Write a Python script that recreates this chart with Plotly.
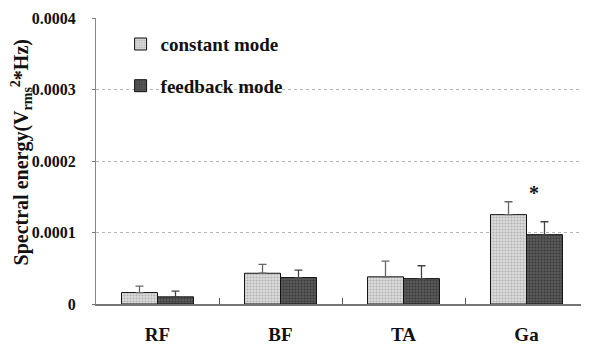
import plotly.graph_objects as go

categories = ["RF", "BF", "TA", "Ga"]
constant_vals = [1.6e-5, 4.3e-5, 3.8e-5, 12.5e-5]
constant_err = [0.9e-5, 1.25e-5, 2.2e-5, 1.8e-5]
feedback_vals = [1.0e-5, 3.7e-5, 3.55e-5, 9.7e-5]
feedback_err = [0.8e-5, 1.05e-5, 1.8e-5, 1.8e-5]
y_ticks = [0, 0.0001, 0.0002, 0.0003, 0.0004]
y_tick_labels = ["0", "0.0001", "0.0002", "0.0003", "0.0004"]
y_title = "<b>Spectral energy(V<sub>rms</sub><sup>2</sup>*Hz)</b>"

FONT = "Liberation Serif, Times New Roman, Times, serif"

fig = go.Figure()
fig.add_trace(go.Bar(
    name="<b>constant mode</b>", x=categories, y=constant_vals,
    legendgroup="c",
    marker=dict(color="#c4c4c4", line=dict(color="#111", width=1),
                pattern=dict(shape=".", fgcolor="#8a8a8a", bgcolor="#dcdcdc", size=3, solidity=0.4)),
    error_y=dict(type="data", array=constant_err, symmetric=False, arrayminus=[0]*4,
                 color="#666", thickness=1.3, width=4),
))
fig.add_trace(go.Bar(
    name="<b>feedback mode</b>", x=categories, y=feedback_vals,
    legendgroup="f",
    marker=dict(color="#3c3c3c", line=dict(color="#111", width=1),
                pattern=dict(shape=".", fgcolor="#1a1a1a", bgcolor="#5a5a5a", size=3, solidity=0.4)),
    error_y=dict(type="data", array=feedback_err, symmetric=False, arrayminus=[0]*4,
                 color="#444", thickness=1.3, width=4),
))

fig.add_annotation(x="Ga", y=0.000155, text="<b>*</b>", showarrow=False,
                   xshift=7, font=dict(family=FONT, size=20, color="#111"))

# y-axis title drawn as rotated text in the left margin
fig.add_annotation(xref="paper", yref="paper", x=0, y=0.53, xshift=-74,
                   xanchor="center", yanchor="middle", textangle=-90,
                   text=y_title, showarrow=False,
                   font=dict(family=FONT, size=20, color="#111"))

fig.update_layout(
    width=581, height=339,
    margin=dict(l=88, r=1, t=10, b=43),
    paper_bgcolor="white", plot_bgcolor="white",
    barmode="group", bargap=0.415, bargroupgap=0,
    font=dict(family=FONT, color="#111"),
    showlegend=True,
    legend=dict(x=0.05, y=0.975, xanchor="left", yanchor="top",
                font=dict(family=FONT, size=19, color="#111"),
                bgcolor="rgba(0,0,0,0)", tracegroupgap=14, itemwidth=30),
    xaxis=dict(showline=True, linecolor="#777", linewidth=1.5,
               ticks="inside", tickson="boundaries", ticklen=6, tickcolor="#555",
               tickfont=dict(family=FONT, size=19, color="#111"),
               ticklabelstandoff=12,
               tickvals=categories, ticktext=["<b>%s</b>" % c for c in categories]),
    yaxis=dict(range=[0, 0.0004], showline=True, linecolor="#888", linewidth=1.2,
               tickvals=y_ticks, ticktext=["<b>%s</b>" % t for t in y_tick_labels],
               tickfont=dict(family=FONT, size=16, color="#111"),
               ticks="outside", ticklen=3, tickcolor="#777", ticklabelstandoff=13,
               showgrid=True, gridcolor="#b5b5b5", griddash="dot", gridwidth=1,
               zeroline=False),
)

fig.write_html("out.html")
